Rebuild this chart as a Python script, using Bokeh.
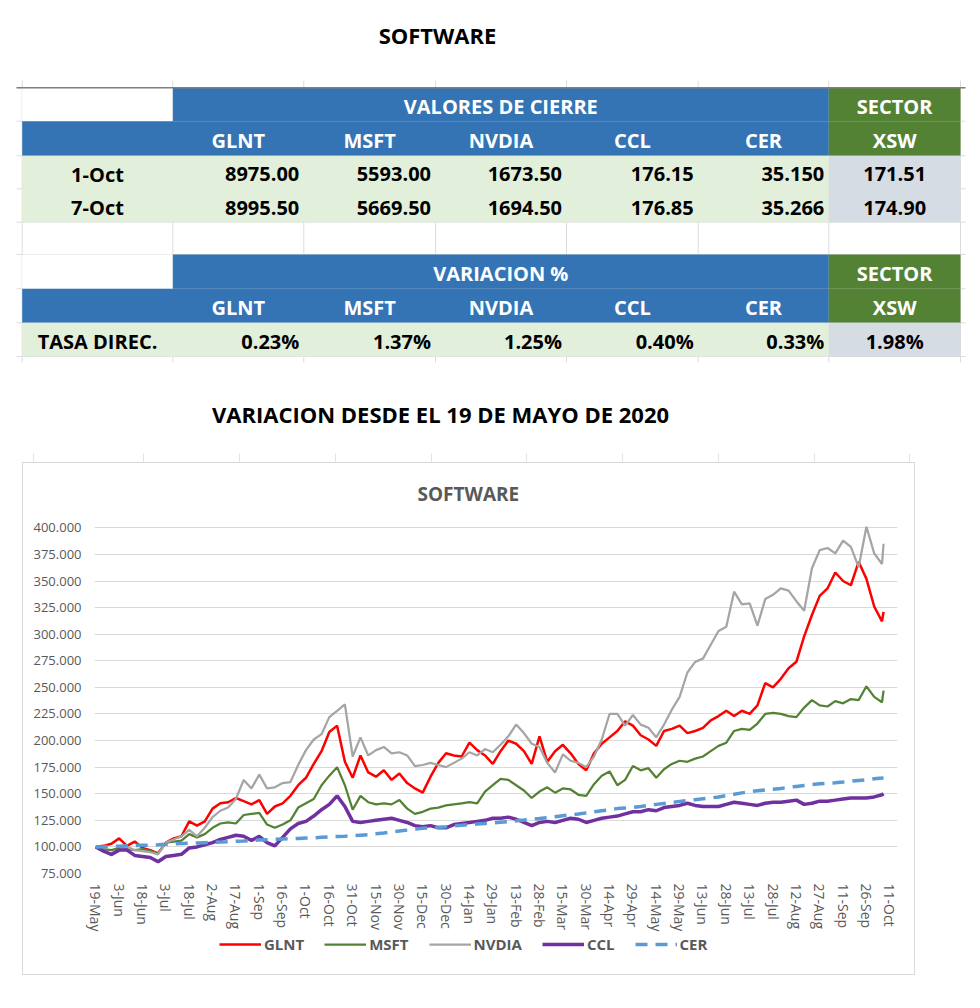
import pandas as pd
from bokeh.plotting import figure
from bokeh.models import (Range1d, FixedTicker, NumeralTickFormatter, Legend,
                          LegendItem, ColumnDataSource)
from bokeh.core.properties import value
from bokeh.embed import file_html
from bokeh.resources import INLINE

FONT = "Open Sans"

# ---------------- table data ----------------
page_title = "SOFTWARE"
chart_subtitle = "VARIACION DESDE EL 19 DE MAYO DE 2020"
table1_header = "VALORES DE CIERRE"
table2_header = "VARIACION %"
sector_top = "SECTOR"
sector_name = "XSW"
tickers = ["GLNT", "MSFT", "NVDIA", "CCL", "CER"]
close_dates = ["1-Oct", "7-Oct"]
glnt_close = [8975.00, 8995.50]
msft_close = [5593.00, 5669.50]
nvdia_close = [1673.50, 1694.50]
ccl_close = [176.15, 176.85]
cer_close = [35.150, 35.266]
xsw_close = [171.51, 174.90]
var_label = "TASA DIREC."
var_pct = [0.23, 1.37, 1.25, 0.40, 0.33]
xsw_var_pct = 1.98

# ---------------- chart data (index, 19-May-2020 = 100) ----------------
series_dates = list(pd.date_range("2020-05-19", periods=102, freq="5D")) + [pd.Timestamp("2021-10-07")]

glnt = [100, 101, 103, 108, 101, 105, 99, 97, 94, 104,
        108, 110, 124, 120, 124, 136, 141, 142, 146, 143,
        140, 144, 131, 138, 141, 148, 158, 165, 178, 190,
        208, 214, 180, 165, 186, 170, 166, 172, 163, 169,
        160, 155, 151, 166, 179, 188, 186, 185, 198, 191,
        186, 178, 190, 200, 197, 190, 178, 204, 180, 190,
        196, 188, 178, 172, 188, 197, 203, 209, 218, 214,
        205, 201, 195, 209, 211, 214, 207, 209, 212, 219,
        223, 228, 223, 228, 225, 233, 254, 250, 258, 268,
        274, 298, 318, 336, 343, 358, 350, 346, 368, 352,
        326, 312, 321]

msft = [100, 98, 97, 99, 98, 97, 98, 96, 94, 104,
        105, 106, 112, 109, 112, 118, 122, 123, 122, 130,
        131, 132, 121, 118, 121, 125, 137, 141, 145, 158,
        167, 175, 158, 135, 148, 142, 140, 141, 140, 144,
        136, 131, 133, 136, 137, 139, 140, 141, 142, 141,
        152, 158, 164, 163, 158, 153, 146, 152, 156, 151,
        155, 154, 149, 148, 159, 167, 171, 158, 163, 176,
        172, 174, 165, 173, 178, 181, 180, 183, 185, 190,
        195, 198, 209, 211, 210, 216, 225, 226, 225, 223,
        222, 231, 238, 233, 232, 237, 235, 239, 238, 251,
        241, 236, 247]

nvdia = [100, 97, 92, 97, 100, 97, 96, 95, 93, 104,
         107, 110, 116, 110, 118, 128, 134, 137, 145, 163,
         155, 168, 155, 156, 160, 161, 177, 191, 201, 206,
         222, 228, 234, 185, 203, 186, 191, 194, 188, 189,
         186, 176, 177, 179, 177, 175, 179, 183, 189, 186,
         192, 189, 196, 204, 215, 207, 197, 194, 179, 170,
         187, 181, 179, 175, 185, 201, 225, 225, 214, 224,
         215, 212, 203, 215, 229, 241, 264, 274, 277, 290,
         303, 307, 340, 328, 329, 308, 333, 337, 343, 341,
         331, 322, 362, 379, 381, 376, 388, 382, 363, 401,
         376, 366, 385]

ccl = [100, 96, 93, 97, 97, 92, 91, 90, 86, 91,
       92, 93, 99, 100, 102, 104, 107, 109, 111, 110,
       106, 110, 104, 101, 109, 117, 122, 124, 129, 135,
       140, 148, 138, 124, 123, 124, 125, 126, 127, 125,
       123, 120, 119, 120, 118, 118, 121, 122, 123, 124,
       125, 127, 127, 128, 126, 123, 120, 123, 124, 123,
       125, 127, 126, 123, 125, 127, 128, 129, 131, 133,
       133, 135, 134, 137, 138, 139, 141, 139, 138, 138,
       138, 140, 142, 141, 140, 139, 141, 142, 142, 143,
       144, 140, 141, 143, 143, 144, 145, 146, 146, 146,
       147, 149, 150]

cer = [100.0, 100.2, 100.5, 100.7, 101.0, 101.2, 101.5, 101.7, 102.0, 102.4,
       102.8, 103.1, 103.5, 103.7, 104.0, 104.2, 104.5, 104.9, 105.3, 105.6,
       106.0, 106.4, 106.8, 107.1, 107.5, 107.8, 108.0, 108.3, 108.5, 109.0,
       109.5, 109.8, 110.0, 110.5, 111.0, 111.5, 112.3, 113.0, 114.0, 115.0,
       115.8, 116.7, 117.5, 118.0, 118.5, 119.0, 119.7, 120.3, 121.0, 121.5,
       122.0, 122.5, 123.2, 123.8, 124.5, 125.2, 126.0, 126.7, 127.5, 128.4,
       129.3, 130.1, 131.0, 132.0, 133.0, 134.0, 135.0, 136.0, 136.6, 137.2,
       138.0, 139.0, 140.0, 140.9, 141.8, 142.8, 143.6, 144.4, 145.2, 146.0,
       147.0, 148.2, 149.5, 150.8, 152.0, 152.8, 153.5, 154.2, 155.0, 156.0,
       156.9, 157.8, 158.7, 159.3, 159.8, 160.3, 161.0, 161.8, 162.5, 163.2,
       164.0, 164.7, 164.9]

tick_dates = pd.date_range("2020-05-19", periods=35, freq="15D")
tick_labels = ["19-May", "3-Jun", "18-Jun", "3-Jul", "18-Jul", "2-Aug", "17-Aug",
               "1-Sep", "16-Sep", "1-Oct", "16-Oct", "31-Oct", "15-Nov", "30-Nov",
               "15-Dec", "30-Dec", "14-Jan", "29-Jan", "13-Feb", "28-Feb", "15-Mar",
               "30-Mar", "14-Apr", "29-Apr", "14-May", "29-May", "13-Jun", "28-Jun",
               "13-Jul", "28-Jul", "12-Aug", "27-Aug", "11-Sep", "26-Sep", "11-Oct"]
y_ticks = [75, 100, 125, 150, 175, 200, 225, 250, 275, 300, 325, 350, 375, 400]

chart_title = "SOFTWARE"
series_names = ["GLNT", "MSFT", "NVDIA", "CCL", "CER"]

# ---------------- styling ----------------
BLUE = "#3474B4"
GREEN = "#548235"
LIGHT_GREEN = "#E2EFDA"
LAVENDER = "#D6DCE4"
GRID = "#DCDCDC"
BOX = "1px solid #D9D9D9"
series_style = [dict(line_color="#FF0000", line_width=2.5),
                dict(line_color=GREEN, line_width=2.25),
                dict(line_color="#A5A5A5", line_width=2.25),
                dict(line_color="#7030A0", line_width=3.5),
                dict(line_color="#5B9BD5", line_width=3.5, line_dash="12 8")]

# ================= figure 1 : titles + tables (page pixel coordinates) =================
p1 = figure(width=980, height=462, x_range=Range1d(0, 980), y_range=Range1d(462, 0),
            output_backend="svg", toolbar_location=None, min_border=0,
            min_border_left=0, min_border_right=0, min_border_top=0, min_border_bottom=0,
            x_axis_location=None, y_axis_location=None,
            outline_line_color=None, background_fill_color="white",
            border_fill_color="white")
p1.grid.visible = False

cx = [21.7, 172.3, 303.3, 435, 566, 697.7, 828.3, 960]
r1 = [87.3, 120.7, 155.3, 188.3, 221.7]
r2 = [254, 288.3, 322.3, 356]

# spreadsheet gridlines
p1.segment(x0=cx, x1=cx, y0=[80] * len(cx), y1=[362] * len(cx), color=GRID, line_width=1)
rows_all = r1 + r2
p1.segment(x0=[16] * len(rows_all), x1=[965] * len(rows_all), y0=rows_all, y1=rows_all,
           color=GRID, line_width=1)
stub_x = [33, 143, 239, 335, 431, 526, 622, 718, 814, 909]
p1.segment(x0=stub_x, x1=stub_x, y0=[453] * len(stub_x), y1=[462] * len(stub_x),
           color="#E4E4E4", line_width=1)

def cells(rows):
    L, R, T, B, C = [], [], [], [], []
    L += [cx[0], cx[1], cx[6]]; R += [cx[1], cx[6], cx[7]]
    T += [rows[0]] * 3; B += [rows[1]] * 3; C += ["white", BLUE, GREEN]
    L += [cx[0], cx[6]]; R += [cx[6], cx[7]]
    T += [rows[1]] * 2; B += [rows[2]] * 2; C += [BLUE, GREEN]
    L += [cx[0], cx[6]]; R += [cx[6], cx[7]]
    T += [rows[2]] * 2; B += [rows[-1]] * 2; C += [LIGHT_GREEN, LAVENDER]
    return L, R, T, B, C

for rows in (r1, r2):
    L, R, T, B, C = cells(rows)
    p1.quad(left=L, right=R, top=T, bottom=B, fill_color=C, line_color=None)

p1.segment(x0=[16], x1=[965], y0=[r1[0]], y1=[r1[0]], color="#7F7F7F", line_width=1.5)

col_centers = [(cx[i] + cx[i + 1]) / 2 for i in range(7)]
col_rights = [cx[i + 1] - 4.5 for i in range(7)]
hdr_mid = (cx[1] + cx[6]) / 2

def mid(a, b):
    return (a + b) / 2 + 2

txt = dict(text_font=value(FONT), text_font_style="bold", text_baseline="middle")

p1.text(x=[437, 440], y=[34, 413], text=[page_title, chart_subtitle],
        text_font_size="22px", text_color="black", text_align="center", **txt)

hx, hy, ht = [], [], []
for rows, head in ((r1, table1_header), (r2, table2_header)):
    hx += [hdr_mid, col_centers[6]]
    hy += [mid(rows[0], rows[1])] * 2
    ht += [head, sector_top]
    hx += col_centers[1:6] + [col_centers[6]]
    hy += [mid(rows[1], rows[2])] * 6
    ht += tickers + [sector_name]
p1.text(x=hx, y=hy, text=ht, text_font_size="20px", text_color="white",
        text_align="center", **txt)

closes = [glnt_close, msft_close, nvdia_close, ccl_close, cer_close]
cx_t, cy_t, ct_t = [], [], []
rx_t, ry_t, rt_t = [], [], []
for j, d in enumerate(close_dates):
    y = mid(r1[2 + j], r1[3 + j])
    cx_t += [col_centers[0], col_centers[6]]
    cy_t += [y, y]
    ct_t += [d, f"{xsw_close[j]:.2f}"]
    for i, arr in enumerate(closes):
        rx_t.append(col_rights[1 + i]); ry_t.append(y)
        rt_t.append(f"{arr[j]:.3f}" if tickers[i] == "CER" else f"{arr[j]:.2f}")
yv = mid(r2[2], r2[3])
cx_t += [col_centers[0], col_centers[6]]
cy_t += [yv, yv]
ct_t += [var_label, f"{xsw_var_pct:.2f}%"]
for i, v in enumerate(var_pct):
    rx_t.append(col_rights[1 + i]); ry_t.append(yv); rt_t.append(f"{v:.2f}%")

p1.text(x=cx_t, y=cy_t, text=ct_t, text_font_size="20px", text_color="black",
        text_align="center", **txt)
p1.text(x=rx_t, y=ry_t, text=rt_t, text_font_size="20px", text_color="black",
        text_align="right", **txt)

# ================= figure 2 : line chart =================
x_start = pd.Timestamp("2020-05-19") - pd.Timedelta(hours=20)
x_end = pd.Timestamp("2021-10-11") + pd.Timedelta(hours=119)

p2 = figure(width=893, height=471, x_axis_type="datetime",
            x_range=Range1d(x_start, x_end), y_range=Range1d(75, 405),
            output_backend="svg", toolbar_location=None,
            min_border_left=71, min_border_right=19, min_border_top=59,
            min_border_bottom=60, outline_line_color=None,
            background_fill_color="white", border_fill_color="white")
p2.margin = (0, 0, 0, 22)
p2.styles = {"border-top": BOX, "border-left": BOX, "border-right": BOX}

p2.title.text = chart_title
p2.title.align = "left"
p2.title.offset = 323
p2.title.standoff = 31
p2.title.text_font = FONT
p2.title.text_font_size = "19px"
p2.title.text_font_style = "bold"
p2.title.text_color = "#595959"

tick_ms = [float(t.value // 10**6) for t in tick_dates]
p2.xaxis.ticker = FixedTicker(ticks=tick_ms)
p2.xaxis.major_label_overrides = {ms: lab for ms, lab in zip(tick_ms, tick_labels)}
p2.xaxis.major_label_orientation = "vertical"
p2.yaxis.ticker = FixedTicker(ticks=y_ticks)
p2.yaxis.formatter = NumeralTickFormatter(format="0.000")
for ax in (p2.xaxis, p2.yaxis):
    ax.axis_line_color = None
    ax.major_tick_line_color = None
    ax.minor_tick_line_color = None
    ax.major_tick_out = 0
    ax.major_tick_in = 0
    ax.major_label_text_font = FONT
    ax.major_label_text_color = "#595959"
p2.xaxis.major_label_text_font_size = "14px"
p2.yaxis.major_label_text_font_size = "13px"
p2.xaxis.major_label_standoff = 10
p2.yaxis.major_label_standoff = 13
p2.xgrid.grid_line_color = None
p2.ygrid.grid_line_color = "#D9D9D9"
p2.ygrid.grid_line_width = 1

src = ColumnDataSource(dict(date=series_dates, glnt=glnt, msft=msft, nvdia=nvdia,
                            ccl=ccl, cer=cer))
for col, st in zip(["glnt", "msft", "nvdia", "ccl", "cer"], series_style):
    p2.line("date", col, source=src, **st)

# ================= figure 3 : legend strip (bottom of the chart box) =================
p3 = figure(width=893, height=42, x_range=Range1d(0, 1), y_range=Range1d(0, 1),
            output_backend="svg", toolbar_location=None, min_border=0,
            min_border_left=0, min_border_right=0, min_border_top=0, min_border_bottom=0,
            x_axis_location=None, y_axis_location=None, outline_line_color=None,
            background_fill_color="white", border_fill_color="white")
p3.grid.visible = False
p3.margin = (0, 0, 0, 22)
p3.styles = {"border-bottom": BOX, "border-left": BOX, "border-right": BOX}

# key renderers carry the series styles; their points lie outside this strip's ranges
key_renderers = [p3.line(x=[5, 6], y=[5, 6], **st) for st in series_style]
legend = Legend(items=[LegendItem(label=n, renderers=[r]) for n, r in
                       zip(series_names, key_renderers)],
                orientation="horizontal", location=(196, 21),
                glyph_width=42, glyph_height=20, label_height=20, label_standoff=3,
                spacing=20, padding=0, margin=0, border_line_color=None,
                background_fill_alpha=0, label_text_font=FONT,
                label_text_font_size="15px", label_text_font_style="bold",
                label_text_color="#595959")
p3.add_layout(legend)

open("out.html", "w").write(file_html([p1, p2, p3], INLINE))
